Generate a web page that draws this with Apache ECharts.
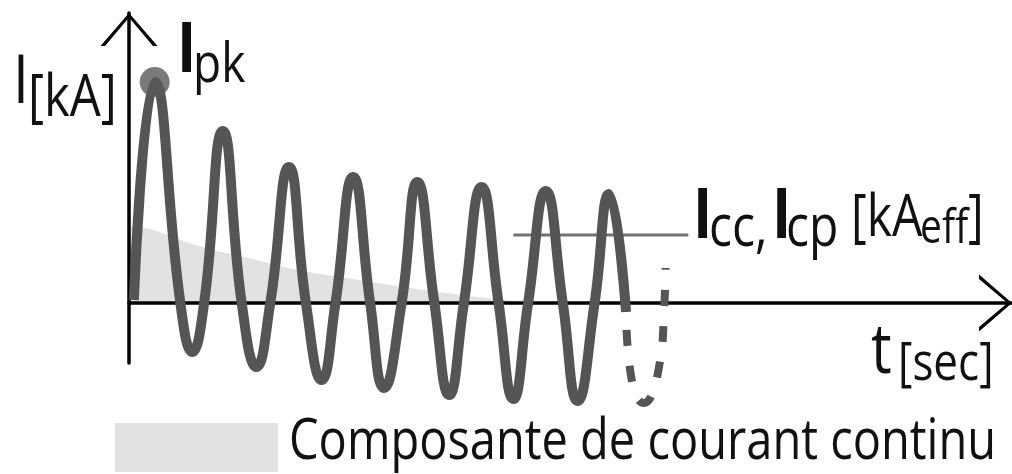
<!DOCTYPE html>
<html><head><meta charset="utf-8">
<script src="https://cdn.jsdelivr.net/npm/echarts@6/dist/echarts.min.js"></script>
<style>html,body{margin:0;padding:0;background:#fff}#c{width:1012px;height:474px}</style>
</head><body><div id="c"></div>
<script>
// time in ms, current in kA (schematic values)
const waveT = [1.5, 8.0, 16.0, 19.7, 23.4, 29.2, 35.1, 39.7, 44.0, 49.8, 55.1, 60.0, 64.3, 69.8, 75.1, 79.4, 84.9, 89.8, 95.1, 99.7, 104.3, 109.8, 115.1, 119.7, 124.3, 129.8, 135.1, 139.7, 145.0, 149.5, 154.8];
const waveI = [0.15, 11.05, 0, -2.45, 0, 8.6, 0, -3.2, 0, 6.8, 0, -3.85, 0, 6.3, 0, -4.25, 0, 6.05, 0, -4.6, 0, 5.8, 0, -4.8, 0, 5.6, 0, -4.9, 0, 5.45, -0.45];
const dashT = [154.8, 156.3, 160.3, 164.6, 166.8, 167.1];
const dashI = [-0.45, -3.6, -5.0, -3.6, 0.15, 1.75];
const dcT = [0.5, 6.5, 21.8, 37.2, 52.6, 68.0, 83.4, 98.8, 114.2, 126.5];
const dcI = [3.85, 3.7, 2.85, 2.25, 1.65, 1.25, 0.85, 0.5, 0.2, 0];
const iccT = [119.7, 174.2];
const iccI = [3.4, 3.4];
const legendLabel = 'Composante de courant continu';

const zip = (a, b) => a.map((v, i) => [v, b[i]]);
let pk = 0; waveI.forEach((v, i) => { if (v > waveI[pk]) pk = i; });
const FONT = '"Open Sans", "Noto Sans", sans-serif';
const SY = 1.2;
function txt(s, x, base, size, weight) {
  return { type: 'text', x: x, y: base, scaleY: SY, silent: true, z: 10,
    style: { text: s, x: 0, y: -0.388 * size, fill: '#111',
      font: (weight || 'normal') + ' ' + size + 'px ' + FONT, verticalAlign: 'middle', align: 'left' } };
}
const CHEV = 'path://M0,33 L28.5,0 L57,33 L52.5,33 L28.5,4.5 L4.5,33 Z';
const axisCommon = {
  axisTick: { show: false }, axisLabel: { show: false }, splitLine: { show: false }
};
const chart = echarts.init(document.getElementById('c'), null, { renderer: 'canvas' });
chart.setOption({
  animation: false,
  backgroundColor: '#fff',
  grid: { left: 129, top: 13, width: 893.75, height: 350, containLabel: false },
  xAxis: Object.assign({ type: 'value', min: 0, max: 275,
    axisLine: { onZero: true, symbol: ['none', CHEV], symbolSize: [57, 33], symbolOffset: [0, -16.5],
      lineStyle: { color: '#000', width: 3.5 } } }, axisCommon),
  yAxis: Object.assign({ type: 'value', min: -3, max: 14.5,
    axisLine: { onZero: true, symbol: ['none', CHEV], symbolSize: [57, 33], symbolOffset: [0, -16.5],
      lineStyle: { color: '#000', width: 3.5 } } }, axisCommon),
  series: [
    { type: 'line', name: legendLabel, data: zip(dcT, dcI), smooth: true, symbol: 'none',
      lineStyle: { width: 0 }, areaStyle: { color: '#e2e2e2', opacity: 1 }, z: -1, clip: false, silent: true },
    { type: 'line', data: zip(iccT, iccI), symbol: 'none', lineStyle: { color: '#727272', width: 3 }, z: 1, clip: false, silent: true },
    { type: 'line', data: zip(waveT, waveI), smooth: 0.5, symbol: 'none',
      lineStyle: { color: '#555', width: 10, cap: 'butt', join: 'round' }, z: 3, clip: false, silent: true },
    { type: 'line', data: zip(dashT, dashI), smooth: 0.5, symbol: 'none',
      lineStyle: { color: '#555', width: 8, type: [16, 20], dashOffset: 18 }, z: 3, clip: false, silent: true },
    { type: 'scatter', data: [[waveT[pk], waveI[pk]]], symbolSize: 30, itemStyle: { color: '#595959' }, z: 4, clip: false, silent: true }
  ],
  graphic: [
    txt('I', 13, 110, 57, 'normal'),
    txt('[kA]', 28, 122, 49, 'normal'),
    txt('I', 177, 79, 58, 'bold'),
    txt('pk', 193, 88, 46, 'normal'),
    txt('I', 693, 245, 58, 'bold'),
    txt('cc,', 709, 252, 48, 'normal'),
    txt('I', 772, 245, 58, 'bold'),
    txt('cp', 786, 252, 48, 'normal'),
    txt('[kA', 851, 242, 48, 'normal'),
    txt('eff', 920, 248, 39, 'normal'),
    txt(']', 968, 242, 48, 'normal'),
    txt('t', 871, 380, 58, 'normal'),
    txt('[sec]', 898, 385, 44, 'normal'),
    { type: 'rect', shape: { x: 115, y: 423, width: 163, height: 49 }, style: { fill: '#e2e2e2' }, silent: true },
    txt(legendLabel, 289, 465, 47, 'normal')
  ]
});
</script></body></html>
